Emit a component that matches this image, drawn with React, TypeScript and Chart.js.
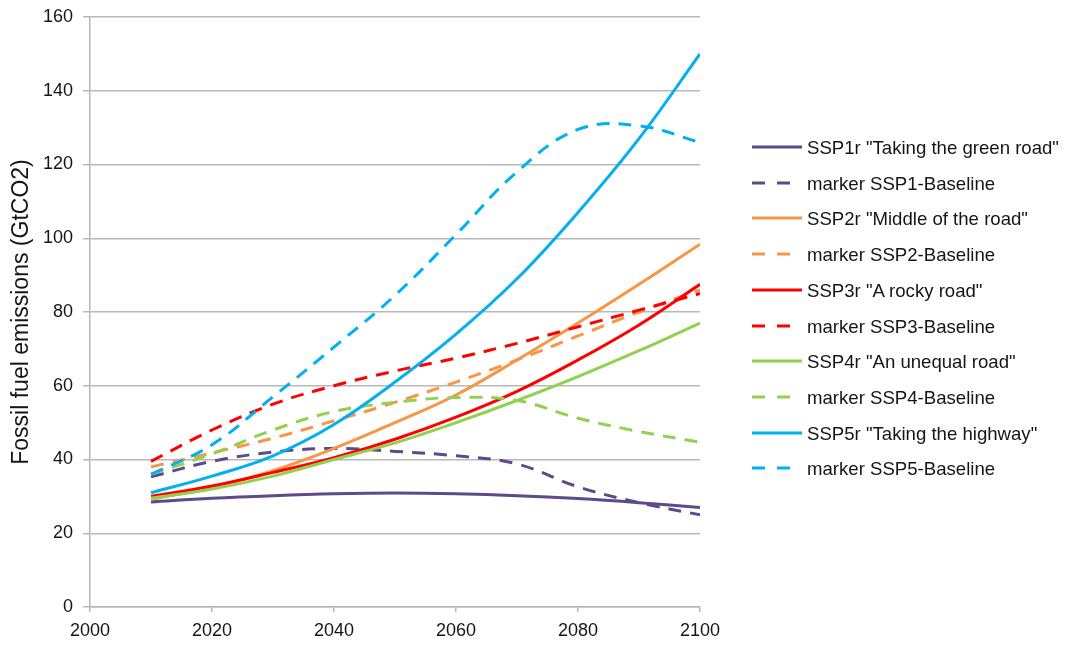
import React, { useEffect, useRef } from "react";
import { Chart, registerables } from "chart.js";

Chart.register(...registerables);

const years = [2010, 2020, 2030, 2040, 2050, 2060, 2070, 2080, 2090, 2100];

const seriesNames = [
  'SSP1r "Taking the green road"',
  "marker SSP1-Baseline",
  'SSP2r "Middle of the road"',
  "marker SSP2-Baseline",
  'SSP3r "A rocky road"',
  "marker SSP3-Baseline",
  'SSP4r "An unequal road"',
  "marker SSP4-Baseline",
  'SSP5r "Taking the highway"',
  "marker SSP5-Baseline",
];

const seriesColors = [
  "#5C4A8A", "#5C4A8A",
  "#F79646", "#F79646",
  "#FF0000", "#FF0000",
  "#92D050", "#92D050",
  "#00B0F0", "#00B0F0",
];

const seriesDashed = [false, true, false, true, false, true, false, true, false, true];

const ssp1r = [28.5, 29.5, 30.2, 30.7, 30.9, 30.7, 30.2, 29.4, 28.3, 27.0];
const ssp1Baseline = [35.3, 39.5, 42.0, 43.0, 42.2, 41.0, 38.8, 32.6, 28.3, 25.0];
const ssp2r = [29.2, 32.5, 37.0, 43.0, 50.0, 57.5, 67.0, 77.0, 87.5, 98.4];
const ssp2Baseline = [38.0, 41.8, 45.8, 50.5, 55.5, 61.0, 67.0, 73.5, 80.0, 86.0];
const ssp3r = [30.0, 32.8, 36.5, 40.5, 45.5, 51.5, 58.5, 67.0, 76.5, 87.5];
const ssp3Baseline = [39.5, 48.0, 55.0, 60.0, 64.0, 67.5, 71.5, 76.0, 80.5, 85.0];
const ssp4r = [29.5, 32.0, 35.5, 40.0, 44.5, 50.0, 56.0, 62.5, 69.5, 77.0];
const ssp4Baseline = [36.0, 41.5, 48.0, 53.0, 55.5, 56.8, 56.0, 51.2, 47.6, 44.7];
const ssp5r = [31.0, 35.5, 41.0, 49.5, 61.0, 74.0, 89.0, 107.0, 127.0, 150.0];
const ssp5Baseline = [36.0, 44.0, 57.0, 70.5, 84.5, 101.0, 118.0, 129.5, 130.5, 126.0];

const seriesValues = [
  ssp1r, ssp1Baseline, ssp2r, ssp2Baseline, ssp3r,
  ssp3Baseline, ssp4r, ssp4Baseline, ssp5r, ssp5Baseline,
];

const xTicks = [2000, 2020, 2040, 2060, 2080, 2100];
const yTicks = [0, 20, 40, 60, 80, 100, 120, 140, 160];
const yTitle = "Fossil fuel emissions (GtCO2)";

const FONT = "'Liberation Sans', Arial, sans-serif";
const GRID = "#b8b8b8";
const TEXT = "#151515";

export default function App() {
  const ref = useRef<HTMLCanvasElement>(null);

  useEffect(() => {
    const canvas = ref.current;
    if (!canvas) return;
    const chart = new Chart(canvas, {
      type: "line",
      data: {
        datasets: seriesValues.map((vals, i) => ({
          label: seriesNames[i],
          data: years.map((yr, j) => ({ x: yr, y: vals[j] })),
          borderColor: seriesColors[i],
          backgroundColor: seriesColors[i],
          borderWidth: 3,
          borderDash: seriesDashed[i] ? [13, 9] : [],
          pointRadius: 0,
          tension: 0.4,
          fill: false,
          order: seriesValues.length - i,
        })),
      },
      options: {
        responsive: false,
        animation: false,
        layout: { padding: { left: 0, top: 17, right: 367, bottom: 0 } },
        plugins: {
          legend: { display: false },
          tooltip: { enabled: false },
        },
        scales: {
          x: {
            type: "linear",
            min: 2000,
            max: 2100,
            afterBuildTicks: (s: any) => {
              s.ticks = xTicks.map((v) => ({ value: v }));
            },
            afterFit: (s: any) => {
              s.height = 39;
              s.paddingLeft = 0;
              s.paddingRight = 0;
            },
            ticks: {
              font: { family: FONT, size: 18 },
              color: TEXT,
              padding: 8,
              maxRotation: 0,
              autoSkip: false,
              callback: (v: any) => String(v),
            },
            grid: {
              drawOnChartArea: false,
              drawTicks: true,
              tickLength: 5,
              color: GRID,
              lineWidth: 1.5,
            },
            border: { color: GRID, width: 1.5 },
          },
          y: {
            type: "linear",
            min: 0,
            max: 160,
            afterBuildTicks: (s: any) => {
              s.ticks = yTicks.map((v) => ({ value: v }));
            },
            afterFit: (s: any) => {
              s.width = 90;
              s.paddingTop = 0;
              s.paddingBottom = 0;
            },
            ticks: {
              font: { family: FONT, size: 18 },
              color: TEXT,
              padding: 10,
              autoSkip: false,
              callback: (v: any) => String(v),
            },
            grid: {
              drawTicks: true,
              tickLength: 7,
              color: GRID,
              lineWidth: 1.5,
            },
            border: { color: GRID, width: 1.5 },
            title: {
              display: true,
              text: yTitle,
              font: { family: FONT, size: 23 },
              color: TEXT,
              padding: { top: 8, bottom: 0 },
            },
          },
        },
      },
    });
    return () => chart.destroy();
  }, []);

  return (
    <div
      style={{
        position: "absolute",
        left: 0,
        top: 0,
        width: 1067,
        height: 646,
        background: "#ffffff",
        overflow: "hidden",
      }}
    >
      <canvas ref={ref} width={1067} height={646} style={{ display: "block" }} />
      {seriesNames.map((name, i) => (
        <div
          key={name}
          style={{
            position: "absolute",
            left: 752,
            top: 148 - 12 + i * 35.7,
            height: 24,
            display: "flex",
            alignItems: "center",
            whiteSpace: "nowrap",
          }}
        >
          <svg width={50} height={6} style={{ display: "block", marginTop: -2 }}>
            <line
              x1={0}
              y1={3}
              x2={50}
              y2={3}
              stroke={seriesColors[i]}
              strokeWidth={3}
              strokeDasharray={seriesDashed[i] ? "13 12" : undefined}
            />
          </svg>
          <span
            style={{
              marginLeft: 5,
              fontFamily: FONT,
              fontSize: 18.6,
              color: TEXT,
              lineHeight: "24px",
            }}
          >
            {name}
          </span>
        </div>
      ))}
    </div>
  );
}
